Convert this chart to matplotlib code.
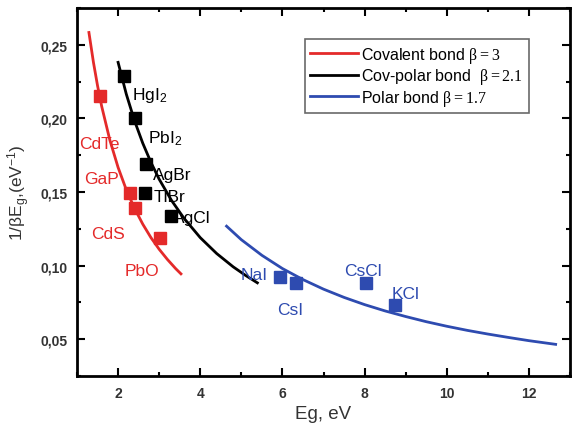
import matplotlib
matplotlib.use("Agg")
import matplotlib.pyplot as plt
from matplotlib.ticker import MultipleLocator, FuncFormatter

plt.rcParams['font.family'] = ['Liberation Sans', 'DejaVu Sans']
plt.rcParams['mathtext.fontset'] = 'custom'
plt.rcParams['mathtext.rm'] = 'Liberation Serif'
plt.rcParams['mathtext.sf'] = 'Liberation Sans'
plt.rcParams['mathtext.it'] = 'Liberation Sans:italic'

# =========================
# DATA
# =========================
# fitted curves 1/(beta*Eg)
red_x = [1.29, 1.4, 1.5, 1.6, 1.8, 2.0, 2.2, 2.4, 2.6, 2.8, 3.0, 3.2, 3.4, 3.53]
red_y = [0.2584, 0.2381, 0.2222, 0.2083, 0.1852, 0.1667, 0.1515, 0.1389, 0.1282, 0.1190, 0.1111, 0.1042, 0.0980, 0.0944]

black_x = [2.0, 2.2, 2.4, 2.6, 2.8, 3.0, 3.3, 3.6, 4.0, 4.4, 4.8, 5.1, 5.39]
black_y = [0.2381, 0.2165, 0.1984, 0.1832, 0.1701, 0.1587, 0.1443, 0.1323, 0.1190, 0.1082, 0.0992, 0.0934, 0.0883]

blue_x = [4.64, 5.0, 5.5, 6.0, 6.5, 7.0, 7.5, 8.0, 8.5, 9.0, 9.5, 10.0, 10.5, 11.0, 11.5, 12.0, 12.65]
blue_y = [0.1268, 0.1176, 0.1070, 0.0980, 0.0905, 0.0840, 0.0784, 0.0735, 0.0692, 0.0654, 0.0619, 0.0588, 0.0560, 0.0535, 0.0512, 0.0490, 0.0465]

# measured compounds
red_pts_x = [1.55, 2.30, 2.42, 3.03]
red_pts_y = [0.215, 0.149, 0.139, 0.119]
red_names = ["CdTe", "GaP", "CdS", "PbO"]
red_lab_x = [1.04, 1.17, 1.35, 2.15]
red_lab_y = [0.183, 0.159, 0.122, 0.097]

black_pts_x = [2.14, 2.42, 2.69, 2.66, 3.29]
black_pts_y = [0.229, 0.200, 0.169, 0.149, 0.134]
black_names = ["HgI$_\\mathsf{2}$", "PbI$_\\mathsf{2}$", "AgBr", "TlBr", "AgCl"]
black_lab_x = [2.33, 2.74, 2.86, 2.86, 3.34]
black_lab_y = [0.216, 0.187, 0.162, 0.147, 0.133]

blue_pts_x = [5.93, 6.33, 8.03, 8.74]
blue_pts_y = [0.092, 0.088, 0.088, 0.073]
blue_names = ["NaI", "CsI", "CsCl", "KCl"]
blue_lab_x = [4.98, 5.88, 7.5, 8.65]
blue_lab_y = [0.094, 0.070, 0.097, 0.081]

RED = "#e42a2a"
BLUE = "#2e4bb0"
BLACK = "#000000"

# =========================
# PLOT
# =========================
fig = plt.figure(figsize=(5.73, 4.31), dpi=100)
ax = fig.add_axes([0.1344, 0.1253, 0.8604, 0.8537])

ax.plot(red_x, red_y, color=RED, lw=2, label=r"Covalent bond $\mathrm{\beta=3}$")
ax.plot(black_x, black_y, color=BLACK, lw=2, label=r"Cov-polar bond  $\mathrm{\beta=2.1}$")
ax.plot(blue_x, blue_y, color=BLUE, lw=2, label=r"Polar bond $\mathrm{\beta=1.7}$")

ax.plot(red_pts_x, red_pts_y, "s", color=RED, ms=8, ls="none")
ax.plot(black_pts_x, black_pts_y, "s", color=BLACK, ms=8, ls="none")
ax.plot(blue_pts_x, blue_pts_y, "s", color=BLUE, ms=8, ls="none")

for xs, ys, names, c in [(red_lab_x, red_lab_y, red_names, RED),
                         (black_lab_x, black_lab_y, black_names, BLACK),
                         (blue_lab_x, blue_lab_y, blue_names, BLUE)]:
    for x, y, n in zip(xs, ys, names):
        ax.text(x, y, n, color=c, fontsize=12.5, va="center", ha="left")

ax.set_xlim(1, 13)
ax.set_ylim(0.025, 0.275)
ax.xaxis.set_major_locator(MultipleLocator(2))
ax.xaxis.set_minor_locator(MultipleLocator(1))
ax.yaxis.set_major_locator(MultipleLocator(0.05))
ax.yaxis.set_minor_locator(MultipleLocator(0.025))
ax.yaxis.set_major_formatter(FuncFormatter(lambda v, p: ("%.2f" % v).replace(".", ",")))

ax.tick_params(which="both", direction="in", top=True, right=True, width=1.5)
ax.tick_params(which="major", length=6, labelsize=10, pad=7)
ax.tick_params(which="minor", length=3)
ax.tick_params(labeltop=False, labelright=False)
for lbl in ax.get_xticklabels() + ax.get_yticklabels():
    lbl.set_fontweight("bold")
    lbl.set_color("#333333")
for s in ax.spines.values():
    s.set_linewidth(2)

ax.set_xlabel("Eg, eV", fontsize=13.5, color="#333333", labelpad=4)
ax.set_ylabel(r"1/$\mathsf{\beta}$E$_\mathsf{g}$,(eV$^\mathsf{-1}$)", fontsize=12.5, color="#333333", labelpad=6)

leg = ax.legend(loc="upper left", bbox_to_anchor=(0.462, 0.916), fontsize=11.5,
                frameon=True, fancybox=False, edgecolor="#444444",
                handlelength=3.0, handletextpad=0.2, labelspacing=0.1,
                borderpad=0.35, borderaxespad=0)
leg.get_frame().set_linewidth(1.2)

fig.savefig("out.png", dpi=100)
